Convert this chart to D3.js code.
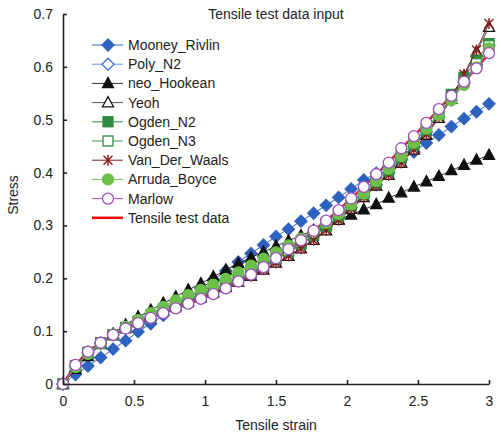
<!DOCTYPE html>
<html>
<head>
<meta charset="utf-8">
<script src="https://cdn.jsdelivr.net/npm/d3@7"></script>
<style>
  body { margin: 0; background: #fff; }
  svg { font-family: "Liberation Sans", Arial, sans-serif; }
</style>
</head>
<body>
<div id="chart"></div>
<script>
// strain points (35 evaluation points from 0 to 3)
const strain = [0, 0.088, 0.176, 0.265, 0.353, 0.441, 0.529, 0.618, 0.706, 0.794,
  0.882, 0.971, 1.059, 1.147, 1.235, 1.324, 1.412, 1.5, 1.588, 1.676,
  1.765, 1.853, 1.941, 2.029, 2.118, 2.206, 2.294, 2.382, 2.471, 2.559,
  2.647, 2.735, 2.824, 2.912, 3.0];

const testData = [0, 0.036, 0.061, 0.078, 0.093, 0.105, 0.115, 0.125, 0.134, 0.143,
  0.152, 0.161, 0.170, 0.181, 0.194, 0.207, 0.221, 0.238, 0.255, 0.272,
  0.290, 0.309, 0.329, 0.351, 0.373, 0.397, 0.419, 0.446, 0.469, 0.494,
  0.520, 0.545, 0.572, 0.597, 0.626];

const mooneyRivlin = [0, 0.018, 0.034, 0.050, 0.066, 0.082, 0.099, 0.114, 0.130, 0.147,
  0.164, 0.181, 0.197, 0.214, 0.231, 0.247, 0.263, 0.279, 0.293, 0.308,
  0.323, 0.338, 0.353, 0.369, 0.386, 0.399, 0.412, 0.426, 0.439, 0.456,
  0.471, 0.487, 0.502, 0.515, 0.530];

const polyN2 = [0, 0.034, 0.059, 0.077, 0.093, 0.106, 0.117, 0.128, 0.138, 0.148,
  0.157, 0.166, 0.175, 0.185, 0.196, 0.208, 0.221, 0.235, 0.249, 0.264,
  0.280, 0.297, 0.315, 0.334, 0.355, 0.377, 0.400, 0.424, 0.450, 0.477,
  0.506, 0.537, 0.570, 0.604, 0.640];

const neoHookean = [0, 0.028, 0.052, 0.075, 0.095, 0.112, 0.127, 0.140, 0.153, 0.165,
  0.178, 0.190, 0.203, 0.216, 0.228, 0.239, 0.250, 0.261, 0.271, 0.281,
  0.291, 0.301, 0.311, 0.320, 0.330, 0.340, 0.352, 0.362, 0.373, 0.383,
  0.393, 0.404, 0.414, 0.424, 0.433];

const yeoh = [0, 0.033, 0.058, 0.077, 0.093, 0.106, 0.118, 0.128, 0.138, 0.147,
  0.156, 0.164, 0.173, 0.183, 0.193, 0.204, 0.216, 0.229, 0.242, 0.256,
  0.272, 0.290, 0.310, 0.331, 0.353, 0.375, 0.395, 0.418, 0.443, 0.471,
  0.503, 0.539, 0.582, 0.628, 0.675];

const ogdenN2 = [0, 0.034, 0.058, 0.077, 0.093, 0.107, 0.119, 0.130, 0.141, 0.151,
  0.160, 0.169, 0.178, 0.188, 0.199, 0.211, 0.223, 0.236, 0.250, 0.265,
  0.281, 0.298, 0.317, 0.337, 0.358, 0.380, 0.403, 0.427, 0.452, 0.479,
  0.515, 0.548, 0.580, 0.613, 0.644];

const ogdenN3 = [0, 0.035, 0.060, 0.078, 0.093, 0.106, 0.117, 0.127, 0.137, 0.146,
  0.155, 0.164, 0.173, 0.184, 0.196, 0.209, 0.222, 0.237, 0.252, 0.268,
  0.285, 0.303, 0.322, 0.342, 0.363, 0.385, 0.408, 0.432, 0.457, 0.483,
  0.511, 0.541, 0.573, 0.606, 0.640];

const vanDerWaals = [0, 0.033, 0.058, 0.077, 0.093, 0.106, 0.118, 0.128, 0.138, 0.147,
  0.156, 0.164, 0.173, 0.183, 0.193, 0.204, 0.216, 0.229, 0.242, 0.256,
  0.272, 0.291, 0.310, 0.332, 0.354, 0.376, 0.395, 0.418, 0.443, 0.472,
  0.505, 0.542, 0.586, 0.632, 0.682];

const arrudaBoyce = [0, 0.032, 0.057, 0.077, 0.094, 0.108, 0.121, 0.134, 0.146, 0.158,
  0.168, 0.178, 0.188, 0.199, 0.211, 0.224, 0.237, 0.249, 0.262, 0.275,
  0.289, 0.305, 0.322, 0.340, 0.360, 0.384, 0.407, 0.431, 0.456, 0.483,
  0.509, 0.537, 0.566, 0.599, 0.635];

const marlow = [0, 0.036, 0.061, 0.078, 0.093, 0.105, 0.115, 0.125, 0.134, 0.143,
  0.152, 0.161, 0.170, 0.181, 0.194, 0.207, 0.221, 0.238, 0.255, 0.272,
  0.290, 0.309, 0.329, 0.351, 0.373, 0.397, 0.419, 0.446, 0.469, 0.494,
  0.520, 0.545, 0.572, 0.597, 0.626];

const xTicks = [0, 0.5, 1, 1.5, 2, 2.5, 3];
const yTicks = [0, 0.1, 0.2, 0.3, 0.4, 0.5, 0.6, 0.7];

const series = [
  { name: "Mooney_Rivlin", values: mooneyRivlin, color: "#2f62c0", line: "#2f62c0", shape: "diamond", fill: true },
  { name: "Poly_N2", values: polyN2, color: "#3a6fd0", line: "#5b8fd8", shape: "diamond", fill: false },
  { name: "neo_Hookean", values: neoHookean, color: "#111", line: "#333", shape: "triangle", fill: true },
  { name: "Yeoh", values: yeoh, color: "#111", line: "#555", shape: "triangle", fill: false },
  { name: "Ogden_N2", values: ogdenN2, color: "#2e8b40", line: "#2e8b40", shape: "square", fill: true },
  { name: "Ogden_N3", values: ogdenN3, color: "#2e8b40", line: "#3a9a4a", shape: "square", fill: false },
  { name: "Van_Der_Waals", values: vanDerWaals, color: "#8b1a1a", line: "#8b1a1a", shape: "star", fill: false },
  { name: "Arruda_Boyce", values: arrudaBoyce, color: "#6cc04a", line: "#6cc04a", shape: "circle", fill: true },
  { name: "Marlow", values: marlow, color: "#a04cc0", line: "#a04cc0", shape: "circle", fill: false }
];

const W = 501, H = 437;
const margin = { top: 14, right: 12, bottom: 53, left: 63 };
const width = W - margin.left - margin.right;
const height = H - margin.top - margin.bottom;

const svg = d3.select("#chart").append("svg")
  .attr("width", W).attr("height", H);

const g = svg.append("g")
  .attr("transform", "translate(" + margin.left + "," + margin.top + ")");

const x = d3.scaleLinear().domain([0, 3]).range([0, width]);
const y = d3.scaleLinear().domain([0, 0.7]).range([height, 0]);

// marker drawing
function drawMarker(sel, s) {
  if (s.shape === "circle") {
    sel.append("circle").attr("r", 5.5);
  } else if (s.shape === "square") {
    sel.append("rect").attr("x", -5).attr("y", -5).attr("width", 10).attr("height", 10);
  } else if (s.shape === "diamond") {
    sel.append("path").attr("d", "M0,-6L6,0L0,6L-6,0Z");
  } else if (s.shape === "triangle") {
    sel.append("path").attr("d", "M0,-6L5.5,4.2L-5.5,4.2Z");
  } else if (s.shape === "star") {
    sel.append("path").attr("d", "M-4.5,-4.5L4.5,4.5M-4.5,4.5L4.5,-4.5M0,-5.5L0,5.5");
  }
  sel.selectAll("circle,rect,path")
    .attr("fill", s.shape === "star" ? "none" : (s.fill ? s.color : "#fff"))
    .attr("stroke", s.color)
    .attr("stroke-width", s.shape === "star" ? 1.4 : 1.3);
}

const line = d3.line().x((d, i) => x(strain[i])).y(d => y(d));

// test data line at the bottom
g.append("path")
  .datum(testData)
  .attr("fill", "none")
  .attr("stroke", "#ff0000")
  .attr("stroke-width", 2.5)
  .attr("d", line);

series.forEach(s => {
  g.append("path")
    .datum(s.values)
    .attr("fill", "none")
    .attr("stroke", s.line)
    .attr("stroke-width", 1)
    .attr("d", line);
  g.selectAll(null)
    .data(s.values)
    .enter().append("g")
    .attr("transform", (d, i) => "translate(" + x(strain[i]) + "," + y(d) + ")")
    .each(function() { drawMarker(d3.select(this), s); });
});

// axes (ticks pointing inward)
const xAxis = g.append("g")
  .attr("transform", "translate(0," + height + ")")
  .call(d3.axisBottom(x).tickValues(xTicks).tickFormat(d3.format("")).tickSize(-4).tickSizeOuter(0).tickPadding(12));
const yAxis = g.append("g")
  .call(d3.axisLeft(y).tickValues(yTicks).tickFormat(d3.format("")).tickSize(-4).tickSizeOuter(0).tickPadding(10));

[xAxis, yAxis].forEach(a => {
  a.selectAll("path,line").attr("stroke", "#222").attr("stroke-width", 1.6);
  a.selectAll("text").attr("fill", "#222").style("font-size", "14px");
});

// titles
svg.append("text")
  .attr("x", margin.left + width / 2).attr("y", 19)
  .attr("text-anchor", "middle").attr("fill", "#222")
  .style("font-size", "14px")
  .text("Tensile test data input");

svg.append("text")
  .attr("x", margin.left + width / 2).attr("y", 430)
  .attr("text-anchor", "middle").attr("fill", "#222")
  .style("font-size", "14px")
  .text("Tensile strain");

svg.append("text")
  .attr("transform", "translate(18," + (margin.top + height / 2 - 4) + ") rotate(-90)")
  .attr("text-anchor", "middle").attr("fill", "#222")
  .style("font-size", "14px")
  .text("Stress");

// legend
const legend = svg.append("g").attr("transform", "translate(92,45)");
const legendItems = series.concat([{ name: "Tensile test data", line: "#ff0000", shape: null }]);
legendItems.forEach((s, i) => {
  const row = legend.append("g").attr("transform", "translate(0," + (i * 19.2) + ")");
  row.append("line")
    .attr("x1", 0).attr("x2", 31).attr("y1", 0).attr("y2", 0)
    .attr("stroke", s.line)
    .attr("stroke-width", s.shape ? 1 : 2.5);
  if (s.shape) {
    const m = row.append("g").attr("transform", "translate(16,0)");
    drawMarker(m, s);
  }
  row.append("text")
    .attr("x", 36).attr("y", 5)
    .attr("fill", "#222")
    .style("font-size", "14px")
    .text(s.name);
});
</script>
</body>
</html>
